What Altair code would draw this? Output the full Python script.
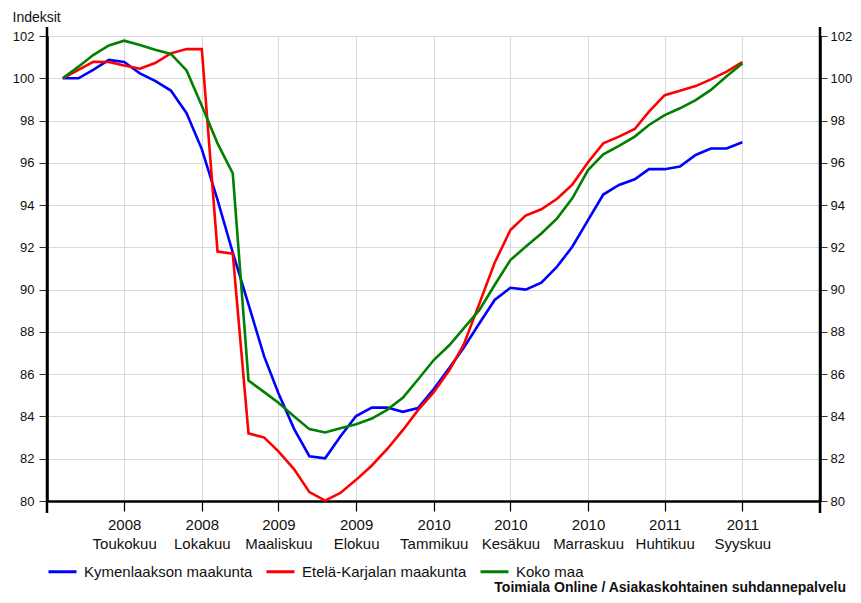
import altair as alt
import pandas as pd

# Monthly index values, January 2008 - September 2011
months = [d.strftime("%Y-%m-%d") for d in pd.date_range("2008-01-01", periods=45, freq="MS")]

kymenlaakso = [100.0, 100.0, 100.4, 100.87, 100.77, 100.23, 99.88, 99.42, 98.35, 96.65,
               94.25, 91.75, 89.3, 86.83, 85.1, 83.4, 82.12, 82.02, 83.05, 84.02,
               84.42, 84.42, 84.22, 84.4, 85.3, 86.3, 87.25, 88.41, 89.51, 90.09,
               90.0, 90.33, 91.09, 92.03, 93.29, 94.5, 94.95, 95.22, 95.7, 95.7,
               95.82, 96.37, 96.68, 96.68, 96.97]
etela_karjala = [100.0, 100.4, 100.78, 100.77, 100.6, 100.45, 100.72, 101.18, 101.38, 101.38,
                 91.8, 91.7, 83.2, 83.0, 82.35, 81.5, 80.42, 80.02, 80.38, 81.0,
                 81.68, 82.45, 83.35, 84.3, 85.15, 86.2, 87.4, 89.35, 91.27, 92.82,
                 93.5, 93.8, 94.3, 94.97, 96.03, 96.92, 97.24, 97.6, 98.42, 99.2,
                 99.41, 99.63, 99.95, 100.31, 100.76]
koko_maa = [100.0, 100.55, 101.1, 101.55, 101.78, 101.57, 101.35, 101.15, 100.37, 98.7,
            96.92, 95.5, 85.7, 85.15, 84.65, 84.0, 83.4, 83.24, 83.44, 83.63,
            83.9, 84.31, 84.88, 85.75, 86.67, 87.38, 88.17, 89.04, 90.22, 91.4,
            92.03, 92.66, 93.37, 94.32, 95.66, 96.4, 96.8, 97.24, 97.79, 98.26,
            98.58, 98.97, 99.45, 100.1, 100.7]

series_names = ["Kymenlaakson maakunta", "Etelä-Karjalan maakunta", "Koko maa"]
series_colors = ["#0000ff", "#ff0000", "#008000"]
y_ticks = list(range(80, 103, 2))
x_tick_months = [(2008, 5), (2008, 10), (2009, 3), (2009, 8), (2010, 1), (2010, 6),
                 (2010, 11), (2011, 4), (2011, 9)]
fi_months = ["Tammikuu", "Helmikuu", "Maaliskuu", "Huhtikuu", "Toukokuu", "Kesäkuu",
             "Heinäkuu", "Elokuu", "Syyskuu", "Lokakuu", "Marraskuu", "Joulukuu"]

rows = []
for name, vals in zip(series_names, [kymenlaakso, etela_karjala, koko_maa]):
    for m, v in zip(months, vals):
        rows.append({"month": m, "value": v, "series": name, "order": series_names.index(name)})
df = pd.DataFrame(rows)

FONT = "Liberation Sans"
W, H = 773, 465

month_arr = "[" + ",".join(f"'{m}'" for m in fi_months) + "]"
label_expr = f"[utcFormat(datum.value, '%Y'), {month_arr}[utcmonth(datum.value)]]"

x_enc = alt.X(
    "month:T",
    scale=alt.Scale(type="utc",
                    domain=[alt.DateTime(year=2007, month=12, date=1, utc=True),
                            alt.DateTime(year=2012, month=2, date=1, utc=True)]),
    axis=alt.Axis(
        values=[alt.DateTime(year=y, month=m, date=1, utc=True) for y, m in x_tick_months],
        labelExpr=label_expr, title=None, grid=True, gridColor="#d9d9d9", gridWidth=1,
        domainColor="black", domainWidth=2.5, tickColor="black", tickWidth=1.2, tickSize=10,
        labelFont=FONT, labelFontSize=15, labelColor="#111", labelPadding=6,
        labelLineHeight=19, labelBaseline="top",
    ),
)

y_scale = alt.Scale(domain=[80, 102], nice=False, zero=False)

lines = alt.Chart(df).mark_line(strokeWidth=2.6, strokeJoin="miter").encode(
    x=x_enc,
    y=alt.Y("value:Q", scale=y_scale,
            axis=alt.Axis(values=y_ticks, title="Indeksit", titleAngle=0, titleX=-35, titleY=-15,
                          titleAlign="left", titleBaseline="alphabetic", titleFontWeight="normal",
                          titleFont=FONT, titleFontSize=14, titleColor="#111",
                          grid=True, gridColor="#d9d9d9", gridWidth=1,
                          domainColor="black", domainWidth=2.5, tickColor="#333", tickWidth=1,
                          tickSize=8, labelPadding=5, labelFont=FONT, labelFontSize=13,
                          labelColor="#111")),
    color=alt.Color("series:N", scale=alt.Scale(domain=series_names, range=series_colors),
                    legend=alt.Legend(orient="none", legendX=0, legendY=520, direction="horizontal",
                                      title=None, symbolType="stroke", symbolSize=784,
                                      symbolStrokeWidth=3, labelFont=FONT, labelFontSize=15,
                                      labelColor="#111", labelOffset=6, columnPadding=7,
                                      labelLimit=400, symbolOffset=0)),
    order=alt.Order("order:Q"),
    detail="series:N",
)

right_axis = alt.Chart(df).mark_line(opacity=0).encode(
    x=alt.X("month:T"),
    y=alt.Y("value:Q", scale=y_scale,
            axis=alt.Axis(orient="right", values=y_ticks, title=None, grid=False,
                          domainColor="black", domainWidth=2.5, tickColor="#333", tickWidth=1,
                          tickSize=7, labelPadding=3, labelFont=FONT, labelFontSize=13,
                          labelColor="#111")),
    detail="series:N",
)

one = pd.DataFrame({"a": [0]})
left_ext = alt.Chart(one).mark_rule(color="black", strokeWidth=2.5).encode(
    x=alt.value(0), y=alt.value(-9), y2=alt.value(H + 12))
right_ext = alt.Chart(one).mark_rule(color="black", strokeWidth=2.5).encode(
    x=alt.value(W), y=alt.value(-9), y2=alt.value(H + 12))

footer = alt.Chart(one).mark_text(
    text="Toimiala Online / Asiakaskohtainen suhdannepalvelu", align="right",
    baseline="alphabetic", font=FONT, fontSize=14, fontWeight="bold", color="#111"
).encode(x=alt.value(799), y=alt.value(556))

chart = alt.layer(lines, right_axis, left_ext, right_ext, footer).resolve_scale(
    y="independent"
).properties(
    width=W, height=H,
    autosize=alt.AutoSizeParams(type="none"),
    padding={"left": 39, "top": 28, "right": 33, "bottom": 94},
).configure_view(stroke=None).configure(font=FONT)

chart.save("out.html", embed_options={"renderer": "svg", "actions": False})
